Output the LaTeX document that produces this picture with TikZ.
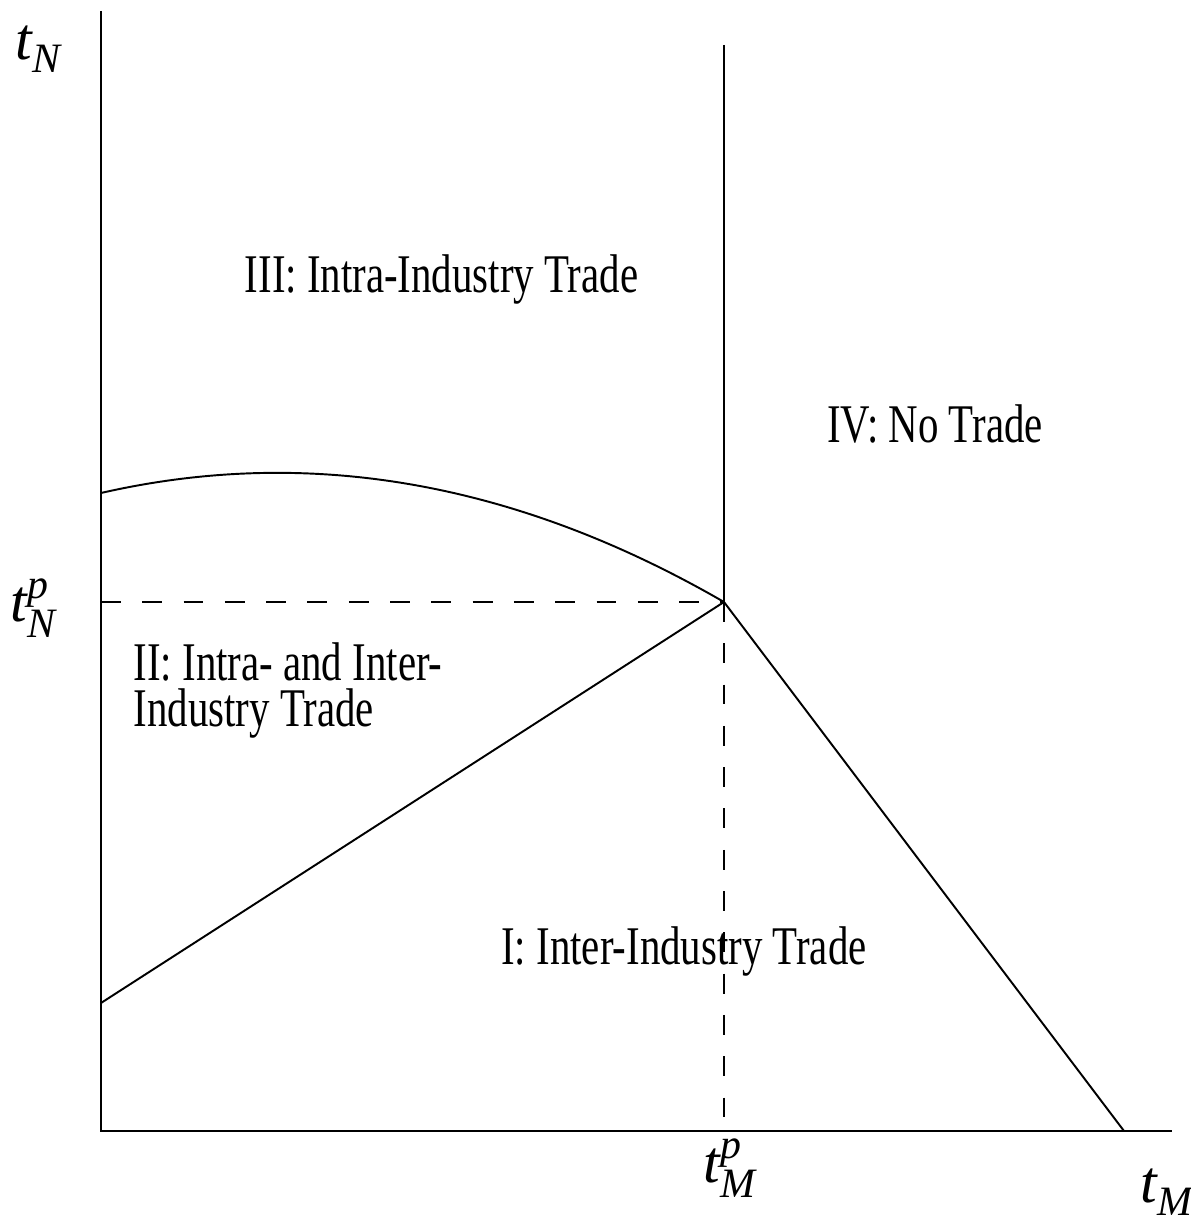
\documentclass[tikz,border=0pt]{standalone}
\usepackage{fontspec}
\setmainfont{Liberation Serif}
\usepackage{tikz}

\begin{document}
\begin{tikzpicture}[line width=1.1pt,
	region/.style={font=\fontsize{31}{26.7}\selectfont, xscale=0.75, align=left, inner sep=0pt},
	axlabel/.style={font=\fontsize{34}{36}\selectfont, inner sep=0pt, anchor=base west},
	guide/.style={dash pattern=on 11.3pt off 12.2pt}]
	\useasboundingbox (-2.02,-1.82) rectangle (21.78,22.62);
	% axes and key points
	\coordinate (O) at (0,0);
	\coordinate (ytop) at (0,22.4);
	\coordinate (xend) at (21.42,0);
	\coordinate (P) at (12.46,10.58);
	\coordinate (vtop) at (12.46,21.72);
	\coordinate (Pfoot) at (12.46,0);
	\coordinate (Pleft) at (0,10.58);
	\coordinate (A) at (0,12.76);
	\coordinate (B) at (0,2.56);
	\coordinate (C) at (20.46,0);
	\draw (ytop) -- (O) -- (xend);
	\draw (vtop) -- (P);
	\draw[guide] (Pleft) -- (P);
	\draw[guide] (P) -- (Pfoot);
	\draw (A) .. controls (4.15,13.71) and (8.31,12.98) .. (P);
	\draw (B) -- (P) -- (C);
	% labels
	\node[axlabel] (tN) at (-1.72,21.42) {$\mathit{t}_{\mathit{N}}$};
	\node[axlabel] (tNp) at (-1.82,10.18) {$\mathit{t}_{\mathit{N}}^{\mathit{p}}$};
	\node[axlabel] (tMp) at (12.04,-1.02) {$\mathit{t}_{\mathit{M}}^{\mathit{p}}$};
	\node[axlabel] (tM) at (20.78,-1.44) {$\mathit{t}_{\mathit{M}}$};
	\node[region, anchor=base] (r3) at (6.81,16.76) {III: Intra-Industry Trade};
	\node[region, anchor=base] (r4) at (16.68,13.76) {IV: No Trade};
	\node[region, anchor=base west] (r2) at (0.64,8.08) {II: Intra- and Inter-\\Industry Trade};
	\node[region, anchor=base] (r1) at (11.66,3.32) {I: Inter-Industry Trade};
\end{tikzpicture}
\end{document}
